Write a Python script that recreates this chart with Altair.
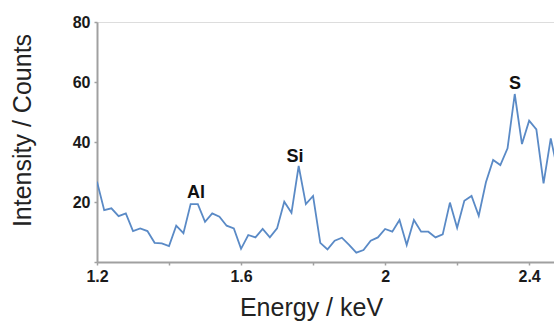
import altair as alt
import pandas as pd

energy = [1.20, 1.22, 1.24, 1.26, 1.28, 1.30, 1.32, 1.34, 1.36, 1.38,
          1.40, 1.42, 1.44, 1.46, 1.48, 1.50, 1.52, 1.54, 1.56, 1.58,
          1.60, 1.62, 1.64, 1.66, 1.68, 1.70, 1.72, 1.74, 1.76, 1.78,
          1.80, 1.82, 1.84, 1.86, 1.88, 1.90, 1.92, 1.94, 1.96, 1.98,
          2.00, 2.02, 2.04, 2.06, 2.08, 2.10, 2.12, 2.14, 2.16, 2.18,
          2.20, 2.22, 2.24, 2.26, 2.28, 2.30, 2.32, 2.34, 2.36, 2.38,
          2.40, 2.42, 2.44, 2.46, 2.48]
counts = [26.8, 17.3, 17.9, 15.3, 16.2, 10.3, 11.2, 10.3, 6.4, 6.2,
          5.3, 12.1, 9.6, 19.3, 19.3, 13.4, 16.2, 15.1, 12.1, 11.2,
          4.4, 9.0, 8.2, 11.0, 8.2, 11.2, 20.1, 16.4, 32.0, 19.3,
          22.0, 6.4, 4.2, 7.1, 8.1, 5.7, 3.1, 4.0, 7.1, 8.2,
          11.0, 10.1, 14.0, 5.7, 14.0, 10.1, 10.1, 8.2, 9.2, 19.8,
          11.4, 20.4, 22.0, 15.4, 26.6, 34.0, 32.3, 37.9, 56.0, 39.3,
          47.1, 44.2, 26.2, 41.2, 30.0]

peak_labels = ["Al", "Si", "S"]
peak_x = [1.475, 1.75, 2.361]
peak_y = [21.3, 33.3, 57.7]

x_ticks = [1.2, 1.4, 1.6, 1.8, 2.0, 2.2, 2.4]
y_ticks = [0, 10, 20, 30, 40, 50, 60, 70, 80]

df = pd.DataFrame({"energy": energy, "counts": counts})
peaks = pd.DataFrame({"label": peak_labels, "x": peak_x, "y": peak_y})

xscale = alt.Scale(domain=[1.2, 2.469], nice=False, zero=False)
yscale = alt.Scale(domain=[0, 80], nice=False)

line = alt.Chart(df).mark_line(color="#5a8ac6", strokeWidth=1.8, clip=True).encode(
    x=alt.X("energy:Q", scale=xscale,
            axis=alt.Axis(
                values=x_ticks, format="~g",
                labelExpr="indexof(['1.2','1.6','2','2.4'], datum.label) >= 0 ? datum.label : ''",
                title="Energy / keV", titleFont="Liberation Sans", titleFontSize=25,
                titleFontWeight="normal", titleColor="#222222",
                titleX=214, titleY=53, titleAlign="center", titleBaseline="alphabetic",
                labelFont="Liberation Sans", labelFontSize=16, labelFontWeight="bold",
                labelColor="#1a1a1a", labelPadding=3, labelFlush=False,
                domainColor="#a0a0a0", domainWidth=2, tickColor="#a0a0a0",
                tickSize=3, tickWidth=1.5, grid=False)),
    y=alt.Y("counts:Q", scale=yscale,
            axis=alt.Axis(
                values=y_ticks,
                labelExpr="datum.value % 20 == 0 && datum.value > 0 ? datum.label : ''",
                title="Intensity / Counts", titleFont="Liberation Sans", titleFontSize=25,
                titleFontWeight="normal", titleColor="#222222",
                titleX=-75, titleY=108, titleAngle=-90, titleAlign="center",
                titleBaseline="middle",
                labelFont="Liberation Sans", labelFontSize=16, labelFontWeight="bold",
                labelColor="#1a1a1a", labelPadding=4,
                domainColor="#a0a0a0", domainWidth=2, tickColor="#a0a0a0",
                tickSize=3, tickWidth=1.5, grid=False)),
)

text = alt.Chart(peaks).mark_text(
    font="Liberation Sans", fontSize=18, fontWeight="bold", color="#111111",
    baseline="alphabetic", align="center"
).encode(
    x=alt.X("x:Q", scale=xscale),
    y=alt.Y("y:Q", scale=yscale),
    text="label:N",
)

chart = alt.layer(line, text).properties(
    width=457, height=240,
    autosize=alt.AutoSizeParams(type="none"),
    padding={"left": 97, "top": 22, "right": 0, "bottom": 59},
).configure_view(stroke=None).configure(background="white")

chart.save("out.html", embed_options={"renderer": "svg", "actions": False})
